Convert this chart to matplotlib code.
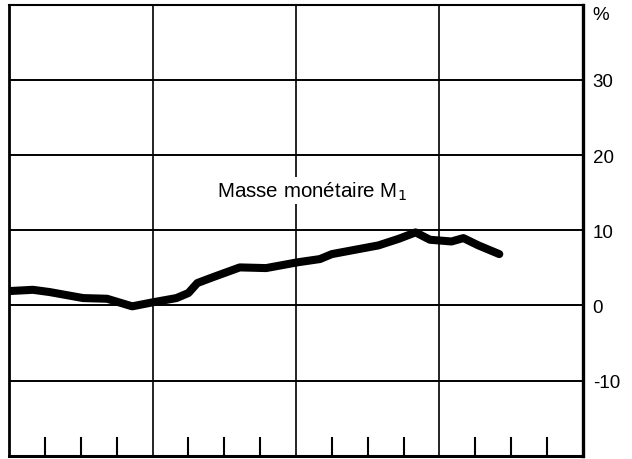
import matplotlib
matplotlib.use("Agg")
import matplotlib.pyplot as plt
import matplotlib.transforms as mtransforms

# Data (x in months from the left edge, 48 months shown)
months = [0, 2, 3.4, 6.2, 8.2, 10.3, 12, 14, 15, 15.75, 17, 19.3, 21.5, 24.1,
          26, 27, 30.9, 32.6, 34, 35.2, 37, 38, 39.25, 41]
m1_growth = [1.9, 2.07, 1.77, 0.97, 0.88, -0.13, 0.4, 0.97, 1.64, 2.97, 3.72,
             5.05, 4.96, 5.72, 6.16, 6.82, 7.98, 8.86, 9.71, 8.73, 8.5, 8.95,
             7.98, 6.82]
y_ticks = [30, 20, 10, 0, -10]
y_tick_labels = ["30", "20", "10", "0", "-10"]
label_text = "Masse monétaire M$_1$"

plt.rcParams['font.family'] = ['Liberation Sans', 'DejaVu Sans']

fig = plt.figure(figsize=(6.32, 4.60), dpi=100)
ax = fig.add_axes([9 / 632, (460 - 456.7) / 460, (583 - 9) / 632, (456.7 - 5.7) / 460])
ax.set_xlim(0, 48)
ax.set_ylim(-20, 40)

# grid
for yv in y_ticks:
    ax.axhline(yv, color='black', lw=1.4, zorder=1)
for xv in [12, 24, 36]:
    ax.axvline(xv, color='black', lw=1.2, zorder=1)

# quarter ticks at the bottom (inside)
for xv in [3, 6, 9, 15, 18, 21, 27, 30, 33, 39, 42, 45]:
    ax.plot([xv, xv], [-20, -17.7], color='black', lw=1.5, zorder=1)

ax.plot(months, m1_growth, color='black', lw=5.8, solid_capstyle='round',
        solid_joinstyle='round', zorder=3)

ax.text(25.3, 15.3, label_text, ha='center', va='center', fontsize=14.8,
        bbox=dict(facecolor='white', edgecolor='none', pad=1.5), zorder=4)

ax.set_xticks([])
ax.yaxis.tick_right()
ax.set_yticks(y_ticks)
ax.set_yticklabels(y_tick_labels, fontsize=13.5)
ax.tick_params(axis='y', length=0, pad=7)
for lab in ax.get_yticklabels():
    lab.set_horizontalalignment('left')
pct = ax.text(1.0, 38.7, "%", fontsize=13.5, ha='left', va='center',
              transform=ax.get_yaxis_transform()
              + mtransforms.ScaledTranslation(9 / 100, 0, fig.dpi_scale_trans))

for side, w in [('left', 2.0), ('bottom', 2.2), ('top', 1.5), ('right', 2.4)]:
    ax.spines[side].set_linewidth(w)

fig.savefig("out.png", dpi=100)
